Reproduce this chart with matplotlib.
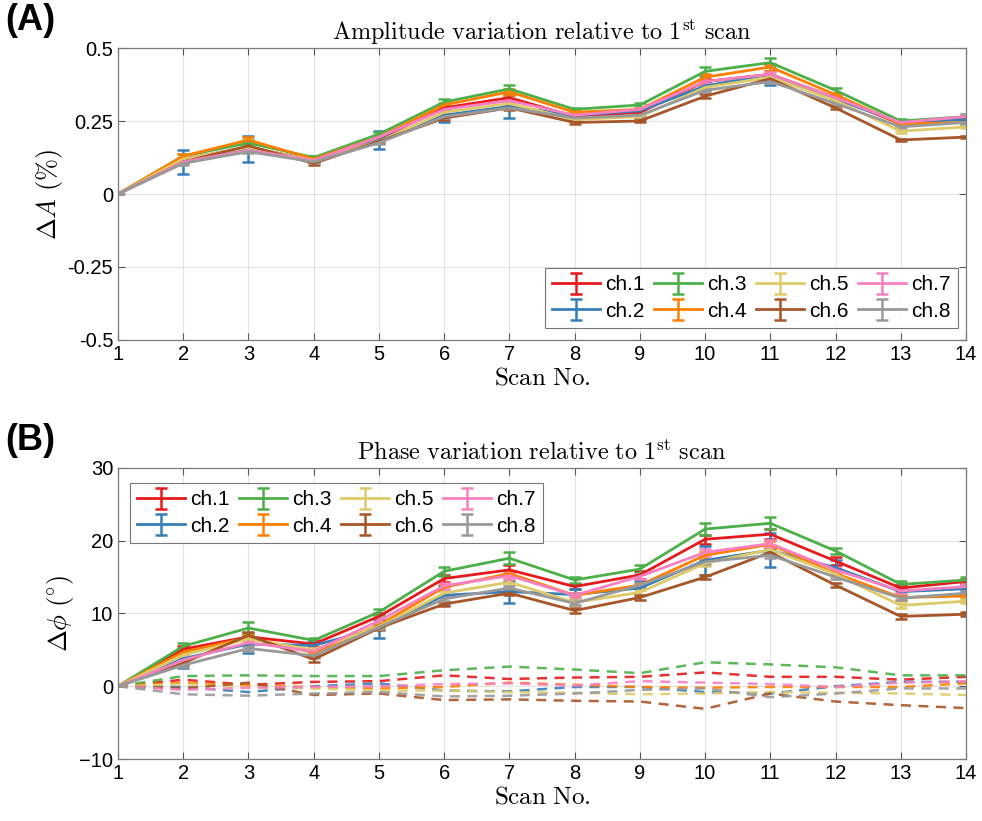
import numpy as np
import matplotlib.pyplot as plt

plt.rcParams['font.family'] = ['Liberation Sans', 'DejaVu Sans']
plt.rcParams['mathtext.fontset'] = 'cm'

# --- data ---
scans = list(range(1, 15))
channels = ['ch.1', 'ch.2', 'ch.3', 'ch.4', 'ch.5', 'ch.6', 'ch.7', 'ch.8']
colors = ['#E41A1C', '#377EB8', '#4DAF4A', '#FF7F00', '#DDCB6A', '#A65628', '#F781BF', '#999999']

# amplitude change (%)
amp_ch1 = [0, 0.12, 0.16, 0.115, 0.19, 0.295, 0.33, 0.265, 0.28, 0.385, 0.41, 0.33, 0.24, 0.26]
amp_ch2 = [0, 0.11, 0.155, 0.12, 0.185, 0.27, 0.30, 0.27, 0.285, 0.37, 0.41, 0.325, 0.245, 0.255]
amp_ch3 = [0, 0.13, 0.175, 0.125, 0.205, 0.315, 0.36, 0.29, 0.305, 0.42, 0.45, 0.355, 0.25, 0.265]
amp_ch4 = [0, 0.13, 0.185, 0.12, 0.195, 0.305, 0.35, 0.28, 0.29, 0.40, 0.435, 0.34, 0.24, 0.245]
amp_ch5 = [0, 0.12, 0.16, 0.115, 0.18, 0.28, 0.31, 0.255, 0.265, 0.365, 0.40, 0.32, 0.215, 0.23]
amp_ch6 = [0, 0.11, 0.165, 0.105, 0.18, 0.26, 0.295, 0.245, 0.25, 0.335, 0.395, 0.295, 0.185, 0.195]
amp_ch7 = [0, 0.11, 0.15, 0.115, 0.195, 0.29, 0.32, 0.27, 0.29, 0.385, 0.41, 0.33, 0.245, 0.265]
amp_ch8 = [0, 0.105, 0.145, 0.11, 0.175, 0.265, 0.295, 0.26, 0.27, 0.355, 0.385, 0.31, 0.23, 0.245]

amp_err_ch1 = [0, 0.005, 0.01, 0.005, 0.005, 0.005, 0.01, 0.005, 0.005, 0.01, 0.01, 0.005, 0.005, 0.005]
amp_err_ch2 = [0, 0.04, 0.045, 0.01, 0.03, 0.025, 0.04, 0.01, 0.01, 0.015, 0.035, 0.01, 0.01, 0.01]
amp_err_ch3 = [0, 0.008, 0.01, 0.005, 0.008, 0.01, 0.012, 0.006, 0.008, 0.015, 0.015, 0.008, 0.006, 0.008]
amp_err_ch4 = [0, 0.006, 0.01, 0.005, 0.005, 0.008, 0.01, 0.005, 0.006, 0.01, 0.012, 0.006, 0.005, 0.005]
amp_err_ch5 = [0, 0.005, 0.005, 0.005, 0.005, 0.005, 0.006, 0.005, 0.005, 0.006, 0.008, 0.005, 0.005, 0.005]
amp_err_ch6 = [0, 0.005, 0.008, 0.004, 0.005, 0.005, 0.006, 0.004, 0.005, 0.006, 0.006, 0.005, 0.004, 0.004]
amp_err_ch7 = [0, 0.005, 0.006, 0.005, 0.005, 0.006, 0.006, 0.005, 0.005, 0.006, 0.008, 0.005, 0.005, 0.006]
amp_err_ch8 = [0, 0.005, 0.005, 0.004, 0.005, 0.005, 0.005, 0.004, 0.005, 0.005, 0.006, 0.005, 0.005, 0.005]

# phase change (deg), solid lines
ph_ch1 = [0, 5.1, 6.8, 5.8, 9.6, 14.8, 16.0, 13.7, 15.3, 20.2, 20.9, 17.2, 13.5, 14.4]
ph_ch2 = [0, 3.8, 5.8, 5.6, 8.0, 12.5, 13.0, 12.6, 13.5, 17.3, 18.7, 16.3, 13.0, 13.4]
ph_ch3 = [0, 5.5, 8.0, 6.3, 10.2, 15.8, 17.6, 14.6, 16.1, 21.6, 22.4, 18.6, 14.0, 14.6]
ph_ch4 = [0, 4.7, 6.7, 4.6, 8.4, 13.6, 15.5, 12.5, 13.9, 18.0, 19.5, 15.5, 12.2, 12.4]
ph_ch5 = [0, 4.3, 6.5, 5.0, 8.2, 12.8, 14.3, 11.5, 12.9, 16.9, 18.8, 15.4, 11.1, 11.7]
ph_ch6 = [0, 3.2, 7.0, 3.7, 8.0, 11.3, 12.8, 10.4, 12.2, 15.0, 18.4, 13.9, 9.6, 9.9]
ph_ch7 = [0, 3.6, 6.0, 4.8, 9.0, 13.8, 15.2, 12.5, 15.1, 18.4, 19.6, 16.0, 13.1, 13.7]
ph_ch8 = [0, 2.9, 5.2, 4.2, 8.1, 12.0, 13.5, 11.4, 13.9, 17.1, 18.0, 15.0, 12.1, 12.8]

ph_err_ch1 = [0, 0.4, 0.5, 0.4, 0.4, 0.5, 0.6, 0.4, 0.5, 0.6, 0.7, 0.5, 0.4, 0.4]
ph_err_ch2 = [0, 1.3, 1.2, 0.5, 1.3, 1.3, 1.5, 0.8, 1.0, 2.0, 2.3, 1.0, 0.5, 0.5]
ph_err_ch3 = [0, 0.4, 0.8, 0.3, 0.4, 0.6, 0.8, 0.4, 0.5, 0.8, 0.8, 0.4, 0.5, 0.4]
ph_err_ch4 = [0, 0.3, 0.4, 0.3, 0.3, 0.4, 0.4, 0.3, 0.3, 0.5, 0.5, 0.3, 0.3, 0.3]
ph_err_ch5 = [0, 0.3, 0.3, 0.3, 0.3, 0.3, 0.4, 0.3, 0.3, 0.4, 0.4, 0.3, 0.3, 0.3]
ph_err_ch6 = [0, 0.3, 0.4, 0.3, 0.3, 0.3, 0.3, 0.3, 0.3, 0.3, 0.4, 0.3, 0.3, 0.3]
ph_err_ch7 = [0, 0.3, 0.4, 0.3, 0.4, 0.4, 0.4, 0.3, 0.3, 0.5, 0.5, 0.3, 0.3, 0.3]
ph_err_ch8 = [0, 0.3, 0.3, 0.3, 0.3, 0.3, 0.3, 0.3, 0.3, 0.3, 0.4, 0.3, 0.3, 0.3]

# phase change (deg), dashed lines (reference)
ref_ch1 = [0, 0.9, 0.2, 0.6, 0.7, 1.5, 1.0, 1.2, 1.3, 1.9, 1.3, 1.3, 0.9, 1.3]
ref_ch2 = [0, -0.1, -0.8, 0.0, 0.4, -0.6, -0.7, -0.1, -0.1, -0.8, -1.0, 0.0, 0.6, 0.6]
ref_ch3 = [0, 1.4, 1.5, 1.4, 1.4, 2.2, 2.7, 2.3, 1.8, 3.3, 3.0, 2.6, 1.5, 1.5]
ref_ch4 = [0, 0.5, 0.1, -0.1, -0.3, -0.1, 0.5, 0.2, -0.1, -0.2, -0.1, -0.1, -0.1, 0.4]
ref_ch5 = [0, 0.3, -0.1, -0.3, -0.6, -0.6, -0.8, -0.9, -1.1, -1.0, -0.8, -0.9, -1.0, -1.2]
ref_ch6 = [0, -0.3, 0.5, -1.2, -1.0, -1.9, -1.8, -2.0, -2.1, -3.1, -1.0, -2.1, -2.6, -3.0]
ref_ch7 = [0, -0.5, -0.2, -0.1, 0.0, 0.3, 0.4, 0.1, 0.7, 0.5, 0.3, -0.1, 0.5, 0.7]
ref_ch8 = [0, -1.1, -1.3, -1.0, -0.8, -1.4, -1.3, -1.0, -0.5, -0.3, -1.5, -1.0, -0.3, -0.3]

amp = [amp_ch1, amp_ch2, amp_ch3, amp_ch4, amp_ch5, amp_ch6, amp_ch7, amp_ch8]
amp_err = [amp_err_ch1, amp_err_ch2, amp_err_ch3, amp_err_ch4,
           amp_err_ch5, amp_err_ch6, amp_err_ch7, amp_err_ch8]
ph = [ph_ch1, ph_ch2, ph_ch3, ph_ch4, ph_ch5, ph_ch6, ph_ch7, ph_ch8]
ph_err = [ph_err_ch1, ph_err_ch2, ph_err_ch3, ph_err_ch4,
          ph_err_ch5, ph_err_ch6, ph_err_ch7, ph_err_ch8]
ref = [ref_ch1, ref_ch2, ref_ch3, ref_ch4, ref_ch5, ref_ch6, ref_ch7, ref_ch8]

# --- figure ---
fig = plt.figure(figsize=(9.82, 8.21), dpi=100)
ax1 = fig.add_axes([0.1202, 0.5859, 0.8635, 0.3556])
ax2 = fig.add_axes([0.1202, 0.0755, 0.8635, 0.3545])

leg_kw = dict(ncol=4, fontsize=15, frameon=True, fancybox=False,
              edgecolor='#555555', handlelength=2.3, columnspacing=0.45,
              handletextpad=0.25, borderpad=0.35, labelspacing=0.35,
              borderaxespad=0)


def style_axis(ax):
    ax.set_xlim(1, 14)
    ax.set_xticks(scans)
    ax.grid(True, color='#e3e3e3', linewidth=0.8)
    ax.set_axisbelow(True)
    ax.tick_params(direction='in', top=True, right=True, length=5,
                   color='#555555', labelsize=14.5, width=0.8)
    for s in ax.spines.values():
        s.set_color('#7a7a7a')
        s.set_linewidth(0.9)
    ax.set_xlabel(r'$\mathrm{Scan\ No.}$', fontsize=18, labelpad=1)


# top: amplitude
for i in range(8):
    ax1.errorbar(scans, amp[i], yerr=amp_err[i], color=colors[i], lw=2,
                 capsize=4, capthick=1.8, elinewidth=1.8, label=channels[i])
style_axis(ax1)
ax1.set_ylim(-0.5, 0.5)
ax1.set_yticks([-0.5, -0.25, 0, 0.25, 0.5])
ax1.set_yticklabels(['-0.5', '-0.25', '0', '0.25', '0.5'])
ax1.set_ylabel(r'$\Delta A\ \mathrm{(\%)}$', fontsize=19, labelpad=2)
ax1.set_title(r'$\mathrm{Amplitude\ variation\ relative\ to\ 1^{st}\ scan}$',
              fontsize=17.5, pad=6)
leg1 = ax1.legend(loc='lower right', bbox_to_anchor=(0.9906, 0.041), **leg_kw)
leg1.get_frame().set_linewidth(0.8)

# bottom: phase
for i in range(8):
    ax2.plot(scans, ref[i], color=colors[i], lw=1.8, ls=(0, (4, 3)), alpha=0.9)
for i in range(8):
    ax2.errorbar(scans, ph[i], yerr=ph_err[i], color=colors[i], lw=2,
                 capsize=4, capthick=1.8, elinewidth=1.8, label=channels[i])
style_axis(ax2)
ax2.set_ylim(-10, 30)
ax2.set_yticks([-10, 0, 10, 20, 30])
ax2.set_ylabel(r'$\Delta\phi\ (^{\circ})$', fontsize=19, labelpad=2)
ax2.set_title(r'$\mathrm{Phase\ variation\ relative\ to\ 1^{st}\ scan}$',
              fontsize=17.5, pad=6)
leg2 = ax2.legend(loc='upper left', bbox_to_anchor=(0.014, 0.948), **leg_kw)
leg2.get_frame().set_linewidth(0.8)

fig.text(0.005, 0.975, '(A)', fontsize=26, fontweight='bold', va='center')
fig.text(0.005, 0.464, '(B)', fontsize=26, fontweight='bold', va='center')

fig.savefig('out.png', dpi=100, facecolor='white')
